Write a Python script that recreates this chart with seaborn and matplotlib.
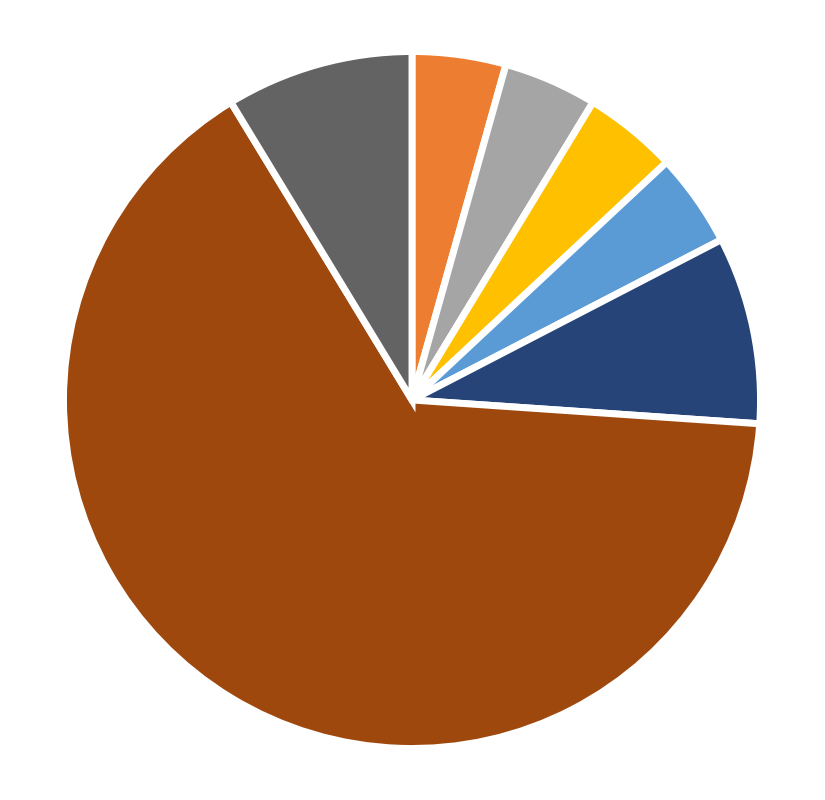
import matplotlib
matplotlib.use("Agg")
import matplotlib.pyplot as plt
import seaborn as sns

categories = ["A", "B", "C", "D", "E", "F", "G"]
values = [1, 1, 1, 1, 2, 15, 2]
colors = ["#ED7D31", "#A5A5A5", "#FFC000", "#5B9BD5", "#264478", "#9E480E", "#636363"]

sns.set_theme(style="white")
palette = sns.color_palette(colors)

fig = plt.figure(figsize=(8.25, 8.0), dpi=100)
fig.patch.set_facecolor("white")
r = 348.5
cx, cy = 412, 400
ax = fig.add_axes([(cx - r) / 825, (800 - (cy + r)) / 800, 2 * r / 825, 2 * r / 800])
ax.pie(values, labels=None, colors=palette, startangle=90, counterclock=False,
       wedgeprops=dict(edgecolor="white", linewidth=5))
ax.set_aspect("auto")
ax.set_xlim(-1, 1)
ax.set_ylim(-1, 1)
ax.axis("off")
fig.savefig("out.png", dpi=100, facecolor="white")
